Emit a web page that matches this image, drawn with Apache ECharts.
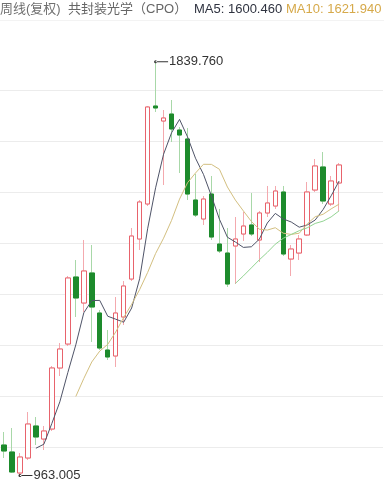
<!DOCTYPE html>
<html>
<head>
<meta charset="utf-8">
<style>
html,body{margin:0;padding:0;background:#fff;}
#chart{width:384px;height:490px;}
</style>
<script src="https://cdn.jsdelivr.net/npm/echarts@6/dist/echarts.min.js"></script>
</head>
<body>
<div id="chart"></div>
<script>
// Weekly candles (forward-adjusted)
const categories = ['W01','W02','W03','W04','W05','W06','W07','W08','W09','W10','W11','W12','W13','W14','W15','W16','W17','W18','W19','W20','W21','W22','W23','W24','W25','W26','W27','W28','W29','W30','W31','W32','W33','W34','W35','W36','W37','W38','W39','W40','W41','W42','W43','P1','P2','P3','P4','P5'];
const openV  = [1027.6,1012.8,968.3,1000.1,1067.9,1040.3,1061.5,1190.8,1241.6,1383.6,1328.5,1392.1,1307.3,1228.9,1216.2,1298.8,1379.3,1464.1,1538.3,1745.9,1714.1,1728.9,1695.0,1676.0,1546.7,1506.5,1559.4,1453.5,1434.4,1449.3,1474.7,1493.8,1462.0,1519.2,1534.0,1563.7,1421.7,1434.4,1472.6,1567.9,1616.7,1538.3,1582.8];
const closeV = [1014.9,970.4,1002.2,1072.1,1044.6,1057.3,1190.8,1231.0,1381.5,1339.1,1396.3,1320.0,1233.1,1214.1,1307.3,1364.5,1470.4,1542.5,1743.8,1741.7,1720.5,1697.2,1684.4,1559.4,1514.9,1548.8,1468.3,1438.7,1368.7,1464.1,1491.6,1474.7,1519.2,1540.4,1565.8,1432.3,1442.9,1464.1,1563.7,1618.8,1544.6,1587.0,1620.9];
const lowV   = [1000.1,968.3,963.005,995.8,1027.6,1017.0,1057.3,1173.8,1237.4,1298.8,1309.4,1245.9,1228.9,1207.7,1192.9,1281.9,1375.1,1440.8,1534.0,1733.2,1578.5,1669.6,1603.9,1546.7,1510.7,1493.8,1462.0,1434.4,1362.4,1368.7,1459.9,1470.4,1415.4,1510.7,1527.7,1428.1,1385.7,1419.6,1470.4,1563.7,1538.3,1534.0,1523.4];
const highV  = [1055.2,1063.6,1010.7,1097.5,1086.9,1067.9,1195.0,1243.7,1385.7,1419.6,1462.0,1451.4,1313.7,1271.3,1341.2,1375.1,1487.4,1546.7,1745.9,1839.76,1737.4,1758.6,1701.4,1699.3,1601.8,1555.2,1597.6,1527.7,1487.4,1510.7,1521.3,1561.6,1523.4,1576.4,1576.4,1576.4,1451.4,1472.6,1584.9,1633.6,1648.4,1597.6,1625.1];
const ma5V  = [null,null,null,null,1020.8,1029.3,1073.4,1119.2,1181.0,1239.9,1307.7,1333.6,1334.0,1300.5,1294.2,1287.8,1317.9,1379.8,1485.7,1572.6,1643.8,1689.1,1717.5,1680.6,1635.3,1601.0,1555.2,1506.0,1467.9,1457.7,1446.3,1447.6,1463.7,1498.0,1518.3,1506.5,1500.1,1489.1,1493.8,1504.3,1526.8,1555.6,1587.0];
const ma10V = [null,null,null,null,null,null,null,null,null,1130.4,1168.5,1203.5,1226.6,1240.8,1267.0,1297.8,1325.7,1356.9,1393.1,1433.4,1465.8,1503.5,1548.6,1583.2,1603.9,1622.4,1622.2,1611.8,1574.3,1546.5,1523.6,1501.4,1484.9,1483.0,1488.0,1476.4,1473.8,1476.4,1495.9,1511.3,1516.6,1527.9,1538.0];
const ma30V = [null,null,null,null,null,null,null,null,null,null,null,null,null,null,null,null,null,null,null,null,null,null,null,null,null,null,null,null,null,1370.0,1385.9,1402.9,1420.0,1435.7,1453.1,1465.6,1473.8,1481.7,1487.8,1497.1,1502.0,1510.9,1523.8];
const headerParts = ['周线(复权)', '共封装光学（CPO）', 'MA5: 1600.460', 'MA10: 1621.940'];

const fullCandles = openV.map((o,i)=>[o, closeV[i], lowV[i], highV[i]]);
const bodyCandles = openV.map((o,i)=>[o, closeV[i], Math.min(o, closeV[i]), Math.max(o, closeV[i])]);

const FONT = '"Liberation Sans", "Noto Sans CJK SC", sans-serif';
const markSym = 'path://M0,1.5a1.5,1.5 0 1,0 3,0a1.5,1.5 0 1,0 -3,0zM1.5,1h12.5v1h-12.5z';

const chart = echarts.init(document.getElementById('chart'), null, {renderer:'canvas'});
chart.setOption({
  animation: false,
  backgroundColor: '#fff',
  grid: {left: -1, top: 39, width: 384, height: 451, containLabel: false},
  xAxis: {type: 'category', data: categories, boundaryGap: true, show: false},
  yAxis: [
    {type: 'value', min: 932.28, max: 1887.86, show: false, scale: true},
    {type: 'value', min: 0, max: 451 / 51, interval: 1, inverse: true, position: 'left',
     axisLine: {show: false}, axisTick: {show: false}, axisLabel: {show: false},
     splitLine: {show: true, showMinLine: false, showMaxLine: false, lineStyle: {color: '#ececec', width: 1}}}
  ],
  graphic: [
    {type: 'line', shape: {x1: 0, y1: 20.5, x2: 384, y2: 20.5}, style: {stroke: '#f3f3f3', lineWidth: 1}, silent: true},
    {type: 'text', left: 0, top: 3, style: {text: headerParts[0], fill: '#707070', font: '13px ' + FONT}},
    {type: 'text', left: 68, top: 3, style: {text: headerParts[1], fill: '#666666', font: '13px ' + FONT}},
    {type: 'text', left: 194, top: 3, style: {text: headerParts[2], fill: '#2f3340', font: '13px ' + FONT}},
    {type: 'text', left: 286, top: 3, style: {text: headerParts[3], fill: '#d6a94a', font: '13px ' + FONT}}
  ],
  series: [
    {
      name: 'wick', type: 'candlestick', data: fullCandles, barWidth: 5, z: 2, clip: false,
      itemStyle: {color: 'transparent', color0: 'transparent', borderColor: '#f4a9ae', borderColor0: '#a8d8a8', borderWidth: 1},
      markPoint: {
        symbol: markSym, symbolSize: [14, 3], symbolOffset: [5.5, 0],
        itemStyle: {color: '#333'},
        label: {show: true, position: 'right', distance: 1, color: '#333', fontSize: 13, fontFamily: FONT,
                formatter: p => Number(p.value).toFixed(3)},
        data: [
          {type: 'max', valueDim: 'highest'},
          {type: 'min', valueDim: 'lowest'}
        ]
      }
    },
    {
      name: 'body', type: 'candlestick', data: bodyCandles, barWidth: 5, z: 3, clip: false,
      itemStyle: {color: '#ffffff', color0: '#1d8b2c', borderColor: '#e8636c', borderColor0: '#1d8b2c', borderWidth: 1}
    },
    {name: 'MA5', type: 'line', data: ma5V, showSymbol: false, z: 4, clip: false, lineStyle: {color: '#4f5468', width: 1}},
    {name: 'MA10', type: 'line', data: ma10V, showSymbol: false, z: 4, clip: false, lineStyle: {color: '#d3bf80', width: 1}},
    {name: 'MA30', type: 'line', data: ma30V, showSymbol: false, z: 4, clip: false, lineStyle: {color: '#92d492', width: 1}}
  ]
});
</script>
</body>
</html>
